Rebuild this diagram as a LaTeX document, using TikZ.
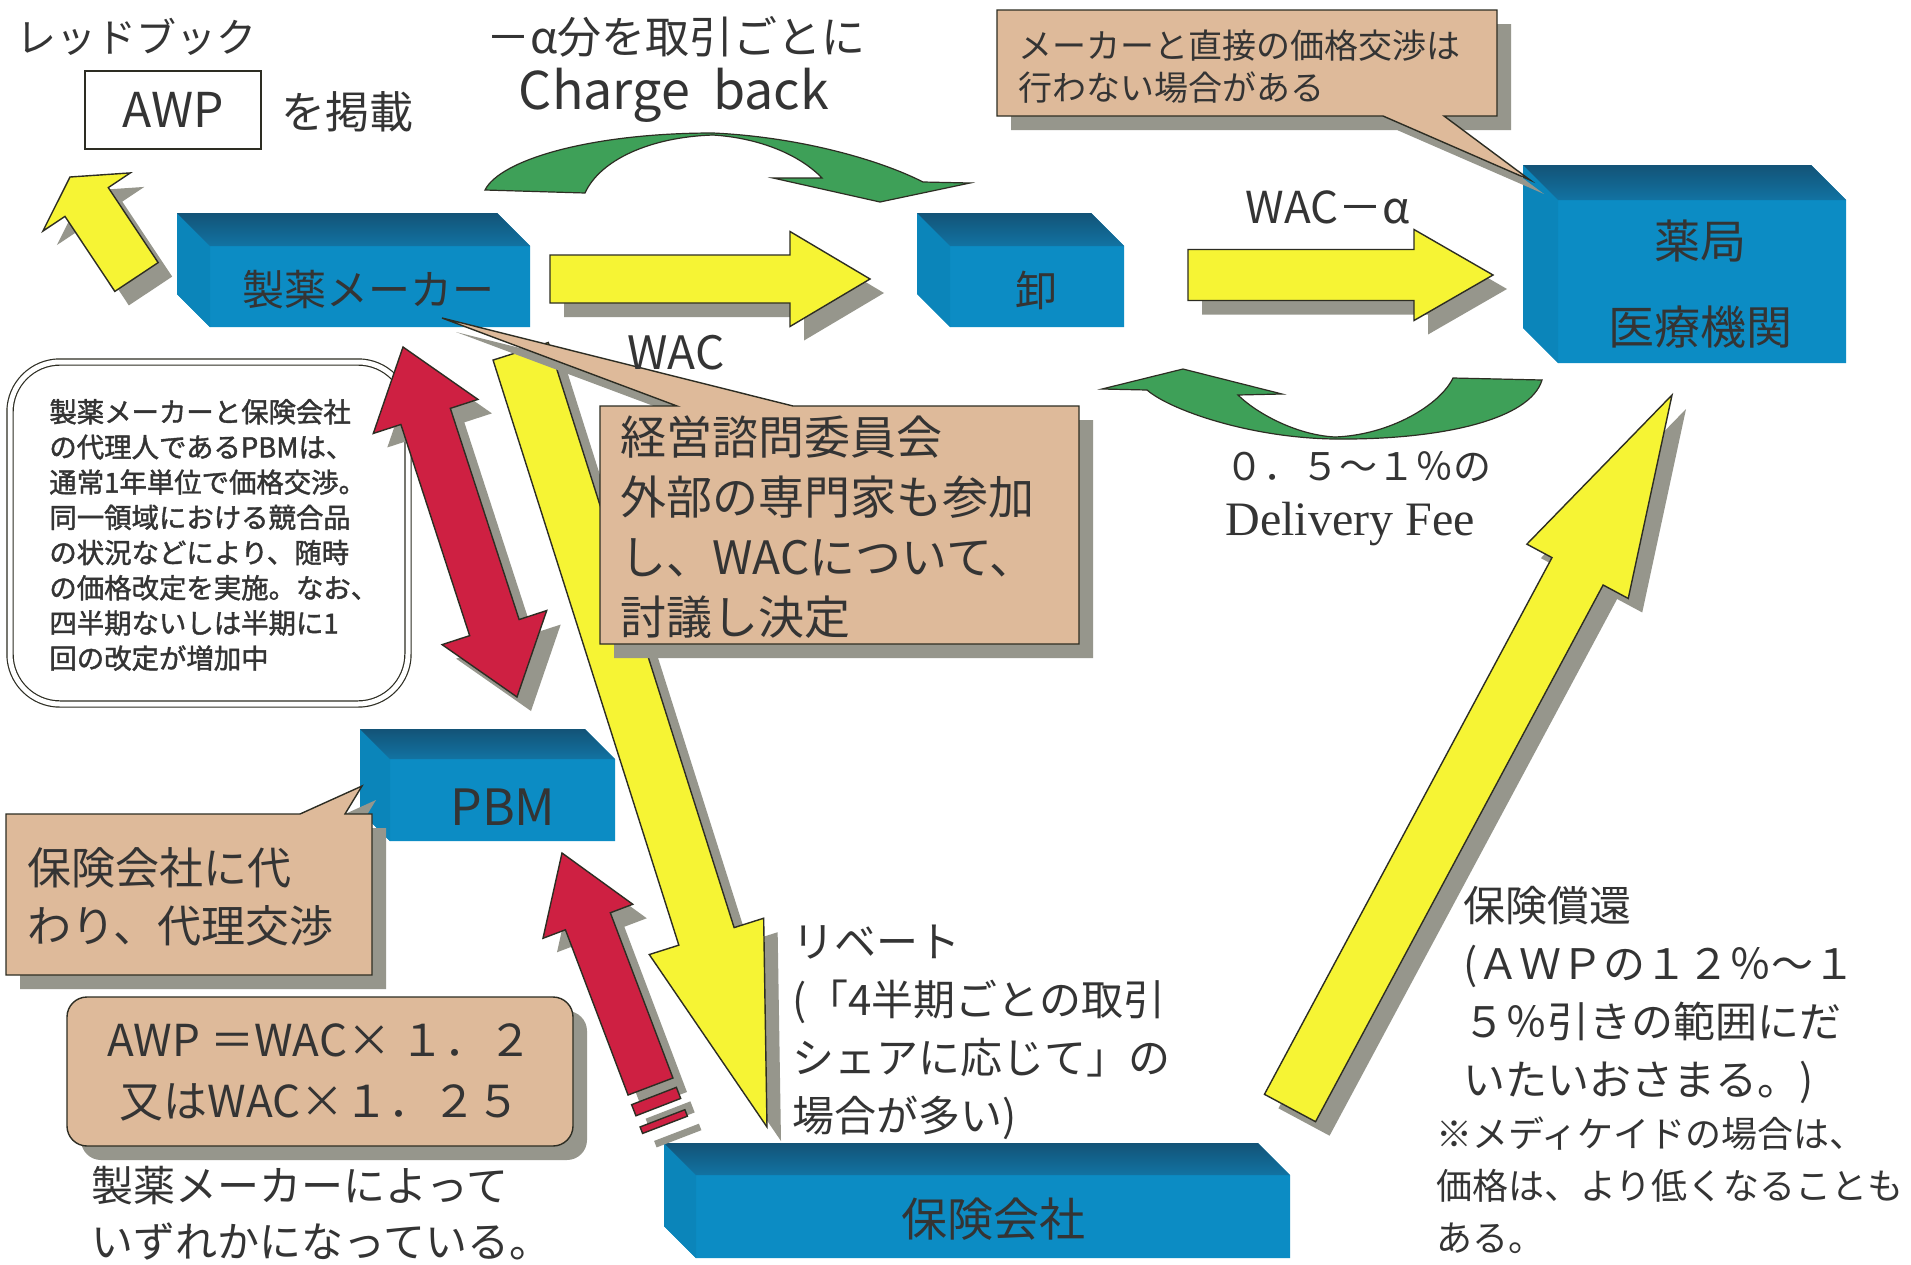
\documentclass[tikz,border=0pt]{standalone}
\usepackage{fontspec}
\setmainfont{Noto Sans CJK JP}
\newfontfamily\deliveryfont{Liberation Serif}
\newfontfamily\boldjp[FakeBold=1.5]{Noto Sans CJK JP}
\usetikzlibrary{calc}
\definecolor{boxfront}{RGB}{12,140,196}
\definecolor{boxtop}{RGB}{22,98,140}
\definecolor{ylw}{RGB}{246,244,52}
\definecolor{grn}{RGB}{62,160,88}
\definecolor{redarr}{RGB}{206,32,66}
\definecolor{tanc}{RGB}{222,186,154}
\definecolor{shad}{RGB}{150,150,140}
\definecolor{txtc}{RGB}{52,52,52}
\definecolor{edgec}{RGB}{45,45,35}
\newcommand\fsz[2]{\fontsize{#1}{#2}\selectfont}
\newdimen\qdim
\newcommand\qgetpt[3]{%
  \pgfextractx{\qdim}{\pgfpointanchor{#1}{center}}\pgfmathsetmacro#2{\qdim}%
  \pgfextracty{\qdim}{\pgfpointanchor{#1}{center}}\pgfmathsetmacro#3{\qdim}}
\newcommand\qcalc[5]{%
  \qgetpt{#1}{\qAx}{\qAy}\qgetpt{#2}{\qBx}{\qBy}%
  \pgfmathsetmacro\qL{veclen(\qBx-\qAx,\qBy-\qAy)}%
  \pgfmathsetmacro\qux{(\qBx-\qAx)/\qL}%
  \pgfmathsetmacro\quy{(\qBy-\qAy)/\qL}%
  \pgfmathsetmacro\qbw{#3/4}\pgfmathsetmacro\qhw{#4/4}\pgfmathsetmacro\qhl{#5/2}%
  \pgfmathsetmacro\qNx{\qBx-\qux*\qhl}\pgfmathsetmacro\qNy{\qBy-\quy*\qhl}%
  \pgfmathsetmacro\qMx{\qAx+\qux*\qhl}\pgfmathsetmacro\qMy{\qAy+\quy*\qhl}}
% single block arrow: from, to, body width, head width, head length (px), fill
\newcommand\blockarrow[6]{%
  \qcalc{#1}{#2}{#3}{#4}{#5}%
  \pgfmathsetmacro\qqax{\qAx-\quy*\qbw}\pgfmathsetmacro\qqay{\qAy+\qux*\qbw}%
  \pgfmathsetmacro\qqbx{\qNx-\quy*\qbw}\pgfmathsetmacro\qqby{\qNy+\qux*\qbw}%
  \pgfmathsetmacro\qqcx{\qNx-\quy*\qhw}\pgfmathsetmacro\qqcy{\qNy+\qux*\qhw}%
  \pgfmathsetmacro\qqdx{\qNx+\quy*\qhw}\pgfmathsetmacro\qqdy{\qNy-\qux*\qhw}%
  \pgfmathsetmacro\qqex{\qNx+\quy*\qbw}\pgfmathsetmacro\qqey{\qNy-\qux*\qbw}%
  \pgfmathsetmacro\qqfx{\qAx+\quy*\qbw}\pgfmathsetmacro\qqfy{\qAy-\qux*\qbw}%
  \path[fill=#6,edgeline,shadowed] (\qqax pt,\qqay pt)--(\qqbx pt,\qqby pt)--(\qqcx pt,\qqcy pt)--(\qBx pt,\qBy pt)--(\qqdx pt,\qqdy pt)--(\qqex pt,\qqey pt)--(\qqfx pt,\qqfy pt)--cycle;}
% double-headed block arrow
\newcommand\dblockarrow[6]{%
  \qcalc{#1}{#2}{#3}{#4}{#5}%
  \pgfmathsetmacro\qqax{\qMx-\quy*\qhw}\pgfmathsetmacro\qqay{\qMy+\qux*\qhw}%
  \pgfmathsetmacro\qqbx{\qMx-\quy*\qbw}\pgfmathsetmacro\qqby{\qMy+\qux*\qbw}%
  \pgfmathsetmacro\qqcx{\qNx-\quy*\qbw}\pgfmathsetmacro\qqcy{\qNy+\qux*\qbw}%
  \pgfmathsetmacro\qqdx{\qNx-\quy*\qhw}\pgfmathsetmacro\qqdy{\qNy+\qux*\qhw}%
  \pgfmathsetmacro\qqex{\qNx+\quy*\qhw}\pgfmathsetmacro\qqey{\qNy-\qux*\qhw}%
  \pgfmathsetmacro\qqfx{\qNx+\quy*\qbw}\pgfmathsetmacro\qqfy{\qNy-\qux*\qbw}%
  \pgfmathsetmacro\qqgx{\qMx+\quy*\qbw}\pgfmathsetmacro\qqgy{\qMy-\qux*\qbw}%
  \pgfmathsetmacro\qqhx{\qMx+\quy*\qhw}\pgfmathsetmacro\qqhy{\qMy-\qux*\qhw}%
  \path[fill=#6,edgeline,shadowed] (\qAx pt,\qAy pt)--(\qqax pt,\qqay pt)--(\qqbx pt,\qqby pt)--(\qqcx pt,\qqcy pt)--(\qqdx pt,\qqdy pt)--(\qBx pt,\qBy pt)--(\qqex pt,\qqey pt)--(\qqfx pt,\qqfy pt)--(\qqgx pt,\qqgy pt)--(\qqhx pt,\qqhy pt)--cycle;}
% 3D box: x1 y1 x2 y2 depth
\newcommand\cubebox[5]{%
  \fill[boxfront] (#1,#2)--({#3-#5},#2)--(#3,{#2+#5})--(#3,#4)--({#1+#5},#4)--(#1,{#4-#5})--cycle;
  \fill[boxfront!95!black] (#1,#2)--({#1+#5},{#2+#5})--({#1+#5},#4)--(#1,{#4-#5})--cycle;
  \shade[top color=boxtop!85!black,bottom color=boxtop!60!boxfront] (#1,#2)--({#3-#5},#2)--(#3,{#2+#5})--({#1+#5},{#2+#5})--cycle;}
\begin{document}
\begin{tikzpicture}[x=0.5pt,y=-0.5pt,
  lbl/.style={inner sep=0pt,text=txtc},
  edgeline/.style={draw=edgec,line width=0.7pt},
  shadowed/.style={preaction={fill=shad,transform canvas={shift={(7pt,-7pt)}}}},
  ribbon/.style={fill=grn,draw=edgec,line width=0.6pt},
  callout/.style={fill=tanc,draw=edgec,line width=0.7pt,shadowed}]
\useasboundingbox (0,0) rectangle (1911,1264);
\fill[white] (0,0) rectangle (1911,1264);

% ---------- top-left texts ----------
\node[lbl,font=\fsz{20}{24}] (redbook) at (137,37) {レッドブック};
\node[draw=edgec,line width=0.8pt,minimum width=88pt,minimum height=39pt,inner sep=0pt,text=txtc,font=\fsz{24}{28}] (awp) at (173,110) {AWP};
\node[lbl,font=\fsz{22}{26}] (keisai) at (347,112) {を掲載};
\node[lbl,font=\fsz{22}{26}] (alphatxt) at (676,37) {－α分を取引ごとに};
\node[lbl,font=\fsz{26}{30}] (cb) at (674,95) {Charge\ \ back};

% ---------- green ribbon (charge back) ----------
\path[ribbon] (485,190) .. controls (500,160) and (590,133) .. (713,133)
  .. controls (800,137) and (880,160) .. (923,182) -- (970,183) -- (880,202) -- (773,178) -- (822,178)
  .. controls (800,155) and (760,138) .. (713,135)
  .. controls (650,137) and (600,160) .. (585,193) -- cycle;

% ---------- boxes ----------
\cubebox{177}{213}{530}{327}{33}
\node[lbl,font=\fsz{21}{24}] (maker) at (368,290) {製薬メーカー};
\cubebox{917}{213}{1124}{327}{33}
\node[lbl,font=\fsz{21}{24}] (oroshi) at (1036,290) {卸};
\cubebox{1523}{165}{1846}{363}{35}
\node[lbl,font=\fsz{23}{26}] (pharm1) at (1700,241) {薬局};
\node[lbl,font=\fsz{23}{26}] (pharm2) at (1700,327) {医療機関};
\cubebox{360}{729}{615}{841}{30}
\node[lbl,font=\fsz{25}{28}] (pbm) at (503,807) {PBM};
\cubebox{664}{1143}{1290}{1258}{32}
\node[lbl,font=\fsz{23}{26}] (hoken) at (993,1219) {保険会社};

% ---------- yellow arrows top row ----------
\coordinate (ya1) at (550,279); \coordinate (ya2) at (870,279);
\blockarrow{ya1}{ya2}{48}{95}{80}{ylw}
\coordinate (yb1) at (1188,275); \coordinate (yb2) at (1493,275);
\blockarrow{yb1}{yb2}{51}{91}{79}{ylw}
\coordinate (yc1) at (136.5,277); \coordinate (yc2) at (70,177);
\blockarrow{yc1}{yc2}{52}{105}{30}{ylw}
\node[lbl,font=\fsz{22}{26}] (wacalpha) at (1328,207) {WAC－\textit{α}};

% ---------- callout top right ----------
\path[callout] (997,10) -- (1497,10) -- (1497,116) -- (1444,116) -- (1530,180) -- (1383,116) -- (997,116) -- cycle;
\node[lbl,font=\fsz{17}{21},align=left,anchor=west] (direct) at (1018,67) {メーカーと直接の価格交渉は\\行わない場合がある};

% ---------- green ribbon (delivery fee) ----------
\path[ribbon] (1102,389) -- (1183,369) -- (1282,394) -- (1238,395)
  .. controls (1255,412) and (1295,435) .. (1335,437)
  .. controls (1390,435) and (1440,405) .. (1453,378) -- (1542,380)
  .. controls (1530,420) and (1440,440) .. (1335,439)
  .. controls (1250,438) and (1170,410) .. (1147,390) -- cycle;
\node[lbl,font=\fsz{19}{22},anchor=west] (fee1) at (1225,467) {０．５～１％の};
\node[lbl,font=\deliveryfont\fsz{24}{28},anchor=west] (fee2) at (1225,524) {Delivery Fee};

% ---------- left rounded box ----------
\draw[draw=edgec,line width=0.6pt,double=white,double distance=2.5pt,rounded corners=25pt] (10,362) rectangle (408,704);
\node[lbl,font=\boldjp\fsz{13.7}{17.6},align=left,anchor=west] (nego) at (49,535) {製薬メーカーと保険会社\\の代理人であるPBMは、\\通常1年単位で価格交渉。\\同一領域における競合品\\の状況などにより、随時\\の価格改定を実施。なお、\\四半期ないしは半期に1\\回の改定が増加中};

% ---------- long yellow arrow (rebate) ----------
\coordinate (yd1) at (520.7,351.3); \coordinate (yd2) at (767,1127);
\blockarrow{yd1}{yd2}{58}{120}{200}{ylw}

% ---------- WAC callout ----------
\path[callout] (600,406) -- (677,406) -- (442,318) -- (793,406) -- (1079,406) -- (1079,644) -- (600,644) -- cycle;
\node[lbl,font=\fsz{23}{30}] (wac) at (676,353) {WAC};
\node[lbl,font=\fsz{23}{30},align=left,anchor=west] (board) at (620,527) {経営諮問委員会\\外部の専門家も参加\\し、WACについて、\\討議し決定};

% ---------- red double arrow ----------
\coordinate (ra1) at (403,347); \coordinate (ra2) at (517,697);
\dblockarrow{ra1}{ra2}{52}{110}{73}{redarr}

% ---------- PBM callout ----------
\path[callout] (6,814) -- (300,814) -- (362,786) -- (345,814) -- (372,814) -- (372,975) -- (6,975) -- cycle;
\node[lbl,font=\fsz{22}{29},align=left,anchor=west] (proxy) at (27,897) {保険会社に代\\わり、代理交渉};

% ---------- red arrow up with stripes ----------
\coordinate (rb1) at (650.5,1086.5); \coordinate (rb2) at (562,853);
\blockarrow{rb1}{rb2}{48}{96}{73}{redarr}
\coordinate (s1a) at (654,1096); \coordinate (s1b) at (658.3,1107.1);
\blockarrow{s1a}{s1b}{48}{48}{0}{redarr}
\coordinate (s2a) at (662.5,1118.3); \coordinate (s2b) at (665,1124.8);
\blockarrow{s2a}{s2b}{48}{48}{0}{redarr}

% ---------- AWP formula box ----------
\path[callout,rounded corners=10pt] (67,997) rectangle (573,1146);
\node[lbl,font=\fsz{22}{30.5},align=center] (formula) at (320,1072) {AWP ＝WAC× １．２\\又はWAC×１．２５};
\node[lbl,font=\fsz{21}{28},align=left,anchor=west] (either) at (91,1213) {製薬メーカーによって\\いずれかになっている。};

% ---------- rebate text ----------
\node[lbl,font=\fsz{21}{29},align=left,anchor=west] (rebate) at (792,1032) {リベート\\(「4半期ごとの取引\\シェアに応じて」の\\場合が多い)};

% ---------- big yellow arrow (reimbursement) ----------
\coordinate (ye1) at (1290,1108); \coordinate (ye2) at (1672,395);
\blockarrow{ye1}{ye2}{58}{115}{200}{ylw}
\node[lbl,font=\fsz{21}{29},align=left,anchor=west] (reimb) at (1463,995) {保険償還\\(ＡＷＰの１２％～１\\５％引きの範囲にだ\\いたいおさまる。)};
\node[lbl,font=\fsz{18}{26},align=left,anchor=west] (medicaid) at (1436,1185) {※メディケイドの場合は、\\価格は、より低くなることも\\ある。};
\end{tikzpicture}
\end{document}
